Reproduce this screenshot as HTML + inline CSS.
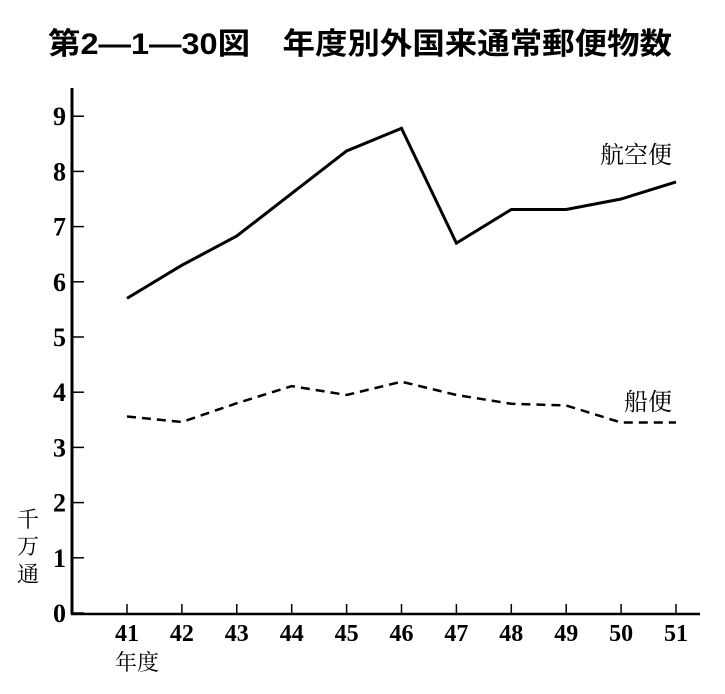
<!DOCTYPE html>
<html><head><meta charset="utf-8"><style>
body{margin:0;background:#fff;width:725px;height:689px;overflow:hidden}
svg text{font-family:"Liberation Serif","Noto Serif CJK SC",serif;fill:#000}
</style></head><body>
<svg id="c" width="725" height="689">
<text x="48" y="54" textLength="624" lengthAdjust="spacingAndGlyphs" font-size="30" font-weight="bold" style="font-family:'Liberation Sans','Noto Sans CJK JP',sans-serif">第2―1―30図　年度別外国来通常郵便物数</text>
<g id="axes"></g>
<g id="marks"></g>
<text x="600" y="163" font-size="24">航空便</text>
<text x="624" y="410" font-size="24">船便</text>
<text x="28" y="527" text-anchor="middle" font-size="22">千</text>
<text x="28" y="554" text-anchor="middle" font-size="22">万</text>
<text x="28" y="582" text-anchor="middle" font-size="22">通</text>
<text x="137" y="670" text-anchor="middle" font-size="22">年度</text>
</svg>
<script>
const categories=["41","42","43","44","45","46","47","48","49","50","51"];
const airMail=[5.7,6.3,6.83,7.6,8.37,8.78,6.7,7.31,7.31,7.5,7.81];
const seaMail=[3.56,3.46,3.8,4.11,3.95,4.19,3.95,3.79,3.76,3.45,3.45];
const yTicks=[0,1,2,3,4,5,6,7,8,9];
const NS="http://www.w3.org/2000/svg";
const x=i=>127+i*54.9;
const y=v=>613-v*55.2;
const axes=document.getElementById('axes'),marks=document.getElementById('marks');
function mk(tag,attrs,parent){const e=document.createElementNS(NS,tag);for(const k in attrs)e.setAttribute(k,attrs[k]);parent.appendChild(e);return e;}
let a=mk('line',{x1:72,y1:88,x2:72,y2:614,stroke:'#000','stroke-width':3},axes);


a=mk('line',{x1:71,y1:614,x2:700,y2:614,stroke:'#000','stroke-width':2.5},axes);


yTicks.forEach(v=>{
 const t=mk('line',{x1:72,y1:y(v),x2:84,y2:y(v),stroke:'#000','stroke-width':1.5},axes);
 
 
 const l=mk('text',{x:66,y:y(v)+9,'text-anchor':'end','font-size':26,'font-weight':'bold'},axes);
 l.textContent=v;
 
 
});
categories.forEach((c,i)=>{
 const t=mk('line',{x1:x(i),y1:604,x2:x(i),y2:614,stroke:'#000','stroke-width':1.5},axes);
 
 
 const l=mk('text',{x:x(i),y:641,'text-anchor':'middle','font-size':24,'font-weight':'bold'},axes);
 l.textContent=c;
 
 
});
let p=mk('polyline',{points:airMail.map((v,i)=>x(i)+','+y(v)).join(' '),fill:'none',stroke:'#000','stroke-width':3},marks);


p=mk('polyline',{points:seaMail.map((v,i)=>x(i)+','+y(v)).join(' '),fill:'none',stroke:'#000','stroke-width':2.5,'stroke-dasharray':'9,6'},marks);


</script>
</body></html>
